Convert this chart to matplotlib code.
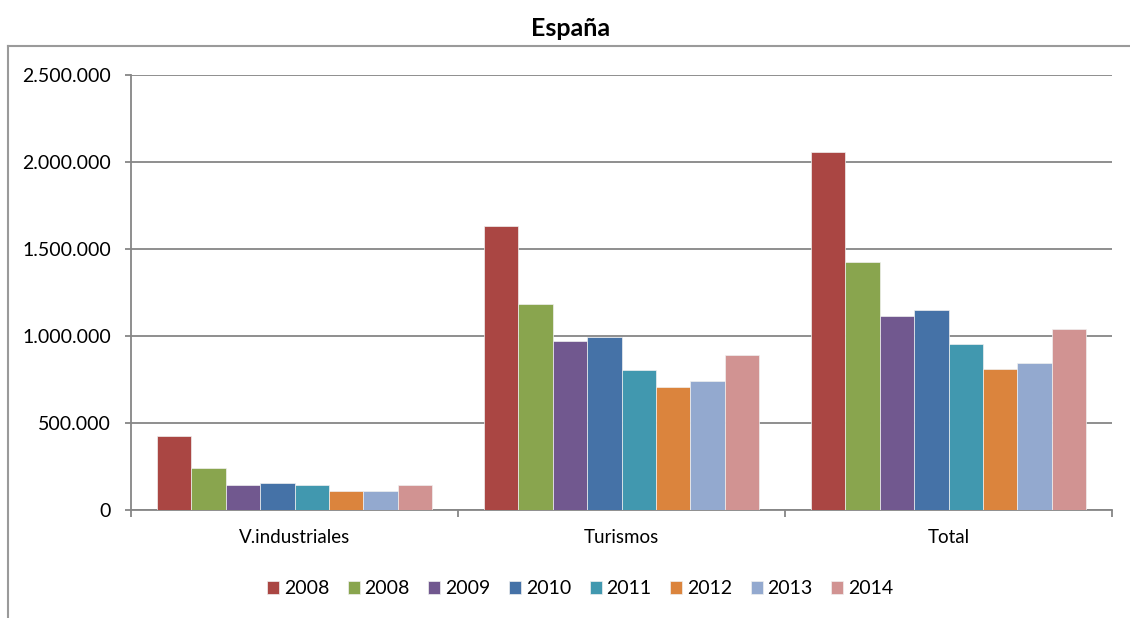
import numpy as np
import matplotlib
matplotlib.use('Agg')
from matplotlib import pyplot as plt
from matplotlib.lines import Line2D

categories = ['V.industriales', 'Turismos', 'Total']
series_labels = ['2008', '2008', '2009', '2010', '2011', '2012', '2013', '2014']
values = [
    [425000, 1632000, 2057000],
    [241000, 1184000, 1425000],
    [145000, 970000, 1115000],
    [155000, 994000, 1148000],
    [145000, 806000, 952000],
    [109000, 705000, 812000],
    [109000, 740000, 847000],
    [145000, 893000, 1040000],
]
colors = ['#AA4643', '#89A54E', '#71588F', '#4572A7',
          '#4198AF', '#DB843D', '#93A9CF', '#D19392']
yticks = [0, 500000, 1000000, 1500000, 2000000, 2500000]

plt.rcParams['font.family'] = ['Lato', 'DejaVu Sans']

fig = plt.figure(figsize=(11.3, 6.18), dpi=100)
ax = fig.add_axes([131 / 1130, 108 / 618, 981 / 1130, 435 / 618])

x = np.arange(len(categories))
width = 0.105
for i, (lab, vals) in enumerate(zip(series_labels, values)):
    ax.bar(x + (i - 3.5) * width, vals, width, color=colors[i], label=lab,
           edgecolor='#f0f0f0', linewidth=0.5, zorder=3)

grid_color = '#868686'
ax.set_xlim(-0.5, 2.5)
ax.set_ylim(0, 2500000)
ax.set_yticks(yticks)
ax.set_yticklabels([f'{v:,}'.replace(',', '.') for v in yticks], fontsize=14)
ax.yaxis.grid(True, color=grid_color, linewidth=1.3, zorder=0)
ax.set_xticks(x)
ax.set_xticklabels(categories, fontsize=13.5)
ax.set_xticks([-0.5, 0.5, 1.5, 2.5], minor=True)
ax.tick_params(axis='x', which='major', length=0, pad=14)
ax.tick_params(axis='x', which='minor', length=4.8, color=grid_color, width=1.3)
ax.tick_params(axis='y', length=4.3, color=grid_color, width=1.3, pad=10)

for side in ['top', 'right']:
    ax.spines[side].set_visible(False)
for side in ['left', 'bottom']:
    ax.spines[side].set_color(grid_color)
    ax.spines[side].set_linewidth(1.3)

fig.text(571 / 1130, 1 - 28 / 618, 'España', ha='center', va='center',
         fontsize=18, fontweight='bold')

# outer chart frame
fig.add_artist(Line2D([8 / 1130, 8 / 1130], [0, 1 - 46 / 618], color='#9a9a9a',
                      linewidth=1.5, transform=fig.transFigure))
fig.add_artist(Line2D([8 / 1130, 1], [1 - 46 / 618, 1 - 46 / 618], color='#9a9a9a',
                      linewidth=1.5, transform=fig.transFigure))

fig.legend(loc='center', bbox_to_anchor=(580 / 1130, 1 - 589 / 618), ncol=8,
           frameon=False, fontsize=14, handlelength=0.62, handleheight=0.62,
           handletextpad=0.25, columnspacing=0.95)

fig.savefig('out.png', dpi=100)
